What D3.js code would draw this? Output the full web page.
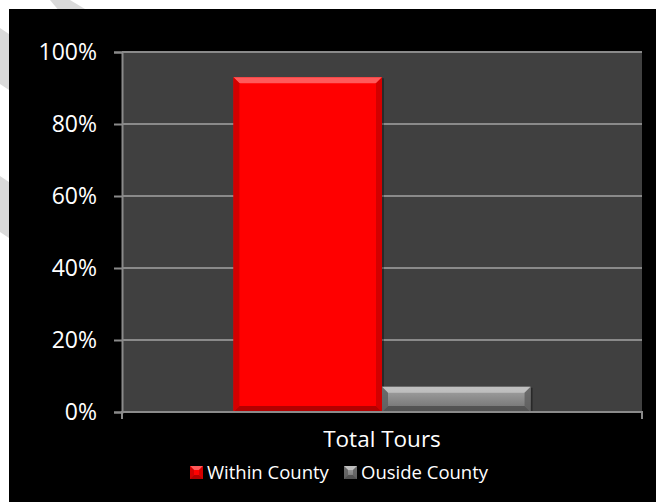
<!DOCTYPE html>
<html>
<head>
<meta charset="utf-8">
<script src="https://cdn.jsdelivr.net/npm/d3@7"></script>
<style>
  body { margin: 0; background: #fff; }
  text { font-family: "Open Sans", sans-serif; fill: #fff; }
</style>
</head>
<body>
<div id="chart"></div>
<script>
const categories = ["Total Tours"];
const seriesNames = ["Within County", "Ouside County"];
const withinValues = [0.93];
const outsideValues = [0.07];
const yTicks = [0, 0.2, 0.4, 0.6, 0.8, 1.0];

const width = 656, height = 502;
const margin = { top: 52, right: 14, bottom: 90, left: 122 };

const svg = d3.select("#chart").append("svg")
    .attr("width", width)
    .attr("height", height);

const defs = svg.append("defs");

// faint watermark strokes peeking out round the black frame
svg.append("polygon").attr("points", "50,0 70,0 90,12 60,12").attr("fill", "#dadada");
svg.append("polygon").attr("points", "0,28 12,36 12,92 0,84").attr("fill", "#dadada");
svg.append("polygon").attr("points", "0,176 12,184 12,240 0,232").attr("fill", "#dadada");

svg.append("rect")
    .attr("x", 9).attr("y", 9)
    .attr("width", width - 9).attr("height", height - 9)
    .attr("fill", "#000");

const x = d3.scaleBand()
    .domain(categories)
    .range([margin.left, width - margin.right]);

const xSeries = d3.scaleBand()
    .domain(seriesNames)
    .range([0, x.bandwidth()])
    .paddingOuter(0.75);

const y = d3.scaleLinear()
    .domain([0, 1])
    .range([height - margin.bottom, margin.top]);

// plot area
svg.append("rect")
    .attr("x", margin.left).attr("y", margin.top)
    .attr("width", width - margin.right - margin.left)
    .attr("height", y(0) - margin.top)
    .attr("fill", "#404040");

// gridlines
svg.append("g")
    .selectAll("line")
    .data(yTicks.filter(d => d > 0))
    .join("line")
    .attr("x1", margin.left).attr("x2", width - margin.right)
    .attr("y1", d => y(d)).attr("y2", d => y(d))
    .attr("stroke", "#8a8a8a")
    .attr("stroke-width", 2);

// y axis
const yAxis = svg.append("g")
    .attr("transform", `translate(${margin.left},0)`)
    .call(d3.axisLeft(y).tickValues(yTicks).tickFormat(d3.format(".0%")).tickSize(8).tickPadding(17));
yAxis.selectAll("line, path").attr("stroke", "#8a8a8a").attr("stroke-width", 2);
yAxis.selectAll("text").attr("font-size", 23).attr("fill", "#fff")
    .style("font-family", "Open Sans");

// x axis
const xAxis = svg.append("g")
    .attr("transform", `translate(0,${y(0)})`)
    .call(d3.axisBottom(x).tickSize(0).tickPadding(19));
xAxis.select("path").attr("stroke", "#8a8a8a").attr("stroke-width", 2).attr("d", `M${margin.left},7V0H${width - margin.right}V7`);
xAxis.selectAll("text").attr("font-size", 22.5).attr("fill", "#fff")
    .style("font-family", "Open Sans");

// bar gradients
const palette = {
  "Within County": { face: ["#ff0000", "#ff0000"], top: "#ff6a6a", side: "#c80000", bottom: "#a00000" },
  "Ouside County": { face: ["#a6a6a6", "#6e6e6e"], top: "#c4c4c4", side: "#5c5c5c", bottom: "#4a4a4a" }
};
seriesNames.forEach((s, i) => {
  const g = defs.append("linearGradient").attr("id", "face" + i).attr("x1", 0).attr("y1", 0).attr("x2", 0).attr("y2", 1);
  g.append("stop").attr("offset", "0%").attr("stop-color", palette[s].face[0]);
  g.append("stop").attr("offset", "100%").attr("stop-color", palette[s].face[1]);
});

function bevelBar(g, x0, y0, w, h, c, idx, b) {
  b = Math.min(b, h / 2, w / 2);
  g.append("rect").attr("x", x0 + 2).attr("y", y0 + 1).attr("width", w).attr("height", h)
      .attr("fill", "#000").attr("opacity", 0.35);
  g.append("rect").attr("x", x0).attr("y", y0).attr("width", w).attr("height", h)
      .attr("fill", `url(#face${idx})`);
  g.append("polygon").attr("fill", c.top).attr("opacity", 0.85)
      .attr("points", [[x0, y0], [x0 + w, y0], [x0 + w - b, y0 + b], [x0 + b, y0 + b]].join(" "));
  g.append("polygon").attr("fill", c.side).attr("opacity", 0.8)
      .attr("points", [[x0, y0], [x0 + b, y0 + b], [x0 + b, y0 + h - b], [x0, y0 + h]].join(" "));
  g.append("polygon").attr("fill", c.side).attr("opacity", 0.8)
      .attr("points", [[x0 + w, y0], [x0 + w - b, y0 + b], [x0 + w - b, y0 + h - b], [x0 + w, y0 + h]].join(" "));
  g.append("polygon").attr("fill", c.bottom).attr("opacity", 0.8)
      .attr("points", [[x0, y0 + h], [x0 + b, y0 + h - b], [x0 + w - b, y0 + h - b], [x0 + w, y0 + h]].join(" "));
}

const seriesValues = [withinValues, outsideValues];
const bars = svg.append("g");
categories.forEach((cat, ci) => {
  seriesNames.forEach((s, si) => {
    const v = seriesValues[si][ci];
    const bx = x(cat) + xSeries(s);
    bevelBar(bars, bx, y(v), xSeries.bandwidth(), y(0) - y(v), palette[s], si, 6);
  });
});

// keep the baseline on top of the bars
svg.append("line")
    .attr("x1", margin.left).attr("x2", width - margin.right)
    .attr("y1", y(0)).attr("y2", y(0))
    .attr("stroke", "#8a8a8a").attr("stroke-width", 2);

// legend
const legend = svg.append("g").attr("transform", "translate(190,466)");
const legendX = [0, 154];
seriesNames.forEach((s, i) => {
  const lg = legend.append("g").attr("transform", `translate(${legendX[i]},0)`);
  bevelBar(lg, 0, 0, 13, 13, palette[s], i, 4);
  lg.append("text")
      .attr("x", 17).attr("y", 12.5)
      .attr("font-size", 18.5)
      .text(s);
});
</script>
</body>
</html>
